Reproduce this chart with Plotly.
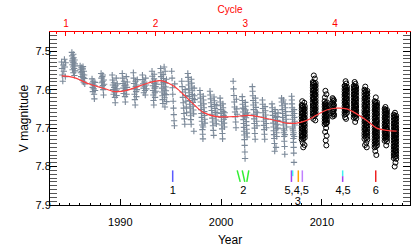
import plotly.graph_objects as go

# ---------------- data ----------------
# gray "+" photometry (year, V mag) per season
gray_obs = [
    (1984.18,7.528),(1984.22,7.545),(1984.25,7.562),(1984.30,7.578),(1984.34,7.536),(1984.40,7.552),(1984.46,7.521),(1984.50,7.541),(1984.55,7.566),(1984.58,7.530),
    (1985.20,7.503),(1985.22,7.512),(1985.24,7.525),(1985.25,7.535),(1985.27,7.548),(1985.29,7.520),(1985.31,7.530),(1985.33,7.541),(1985.35,7.556),(1985.37,7.517),(1985.39,7.528),(1985.41,7.538),(1985.43,7.545),(1985.45,7.563),(1985.47,7.523),(1985.49,7.533),(1985.51,7.551),(1985.34,7.508),
    (1986.02,7.538),(1986.06,7.548),(1986.09,7.556),(1986.12,7.566),(1986.15,7.543),(1986.19,7.553),(1986.22,7.575),(1986.26,7.560),(1986.29,7.546),(1986.33,7.568),(1986.36,7.580),(1986.39,7.552),(1986.42,7.562),(1986.45,7.571),(1986.48,7.585),(1986.30,7.540),
    (1987.20,7.572),(1987.23,7.583),(1987.26,7.594),(1987.28,7.605),(1987.31,7.578),(1987.34,7.588),(1987.37,7.598),(1987.40,7.612),(1987.43,7.624),(1987.45,7.590),(1987.48,7.581),(1987.50,7.602),
    (1988.10,7.558),(1988.13,7.570),(1988.16,7.582),(1988.19,7.593),(1988.22,7.566),(1988.25,7.578),(1988.28,7.589),(1988.31,7.600),(1988.34,7.614),(1988.37,7.575),(1988.40,7.586),(1988.27,7.562),
    (1989.20,7.562),(1989.24,7.575),(1989.27,7.588),(1989.30,7.600),(1989.34,7.612),(1989.37,7.582),(1989.40,7.594),(1989.44,7.606),(1989.47,7.620),(1989.50,7.634),(1989.54,7.590),(1989.57,7.603),(1989.60,7.570),(1989.63,7.615),(1989.67,7.598),(1989.70,7.585),
    (1990.20,7.558),(1990.24,7.570),(1990.27,7.584),(1990.30,7.596),(1990.34,7.610),(1990.37,7.578),(1990.40,7.590),(1990.44,7.602),(1990.47,7.618),(1990.50,7.632),(1990.54,7.588),(1990.57,7.600),(1990.60,7.566),(1990.63,7.612),(1990.67,7.594),(1990.70,7.580),
    (1991.30,7.556),(1991.33,7.570),(1991.36,7.584),(1991.39,7.598),(1991.42,7.612),(1991.45,7.626),(1991.48,7.640),(1991.51,7.578),(1991.54,7.592),(1991.57,7.605),(1991.60,7.618),(1991.63,7.588),(1991.66,7.600),(1991.69,7.574),
    (1992.20,7.562),(1992.24,7.574),(1992.27,7.585),(1992.31,7.596),(1992.34,7.608),(1992.38,7.580),(1992.41,7.591),(1992.45,7.602),(1992.48,7.614),(1992.52,7.570),(1992.55,7.588),(1992.59,7.598),
    (1993.15,7.552),(1993.18,7.565),(1993.20,7.578),(1993.23,7.590),(1993.25,7.602),(1993.28,7.614),(1993.30,7.628),(1993.33,7.640),(1993.35,7.572),(1993.38,7.584),(1993.40,7.596),(1993.43,7.608),(1993.45,7.620),(1993.48,7.580),(1993.50,7.592),(1993.52,7.604),(1993.55,7.586),(1993.36,7.560),
    (1994.00,7.545),(1994.03,7.556),(1994.05,7.566),(1994.08,7.576),(1994.10,7.586),(1994.13,7.596),(1994.15,7.606),(1994.18,7.616),(1994.20,7.626),(1994.23,7.636),(1994.25,7.561),(1994.28,7.571),(1994.30,7.581),(1994.33,7.591),(1994.35,7.601),(1994.38,7.611),(1994.40,7.621),(1994.43,7.645),(1994.45,7.552),(1994.48,7.583),(1994.50,7.593),(1994.53,7.603),(1994.55,7.613),(1994.58,7.573),(1994.60,7.631),(1994.35,7.541),
    (1995.10,7.552),(1995.14,7.570),(1995.18,7.595),(1995.21,7.612),(1995.25,7.630),(1995.28,7.648),(1995.31,7.665),(1995.34,7.681),(1995.37,7.694),(1995.40,7.585),
    (1996.10,7.578),(1996.14,7.592),(1996.18,7.606),(1996.21,7.620),(1996.25,7.634),(1996.29,7.648),(1996.32,7.662),(1996.36,7.676),(1996.40,7.690),(1996.44,7.600),(1996.47,7.615),(1996.51,7.630),(1996.55,7.645),(1996.58,7.660),
    (1996.70,7.558),(1996.73,7.568),(1996.75,7.578),(1996.78,7.588),(1996.80,7.598),(1996.83,7.608),(1996.85,7.618),(1996.88,7.628),(1996.90,7.638),(1996.93,7.648),(1996.95,7.658),(1996.98,7.668),(1997.00,7.678),(1997.03,7.690),(1997.05,7.573),(1997.08,7.583),(1997.10,7.593),(1997.13,7.603),(1997.15,7.613),(1997.18,7.623),(1997.20,7.633),(1997.23,7.643),(1997.25,7.653),(1997.28,7.663),(1997.30,7.708),(1997.33,7.596),(1997.35,7.616),(1997.38,7.626),
    (1997.90,7.602),(1997.93,7.612),(1997.95,7.622),(1997.98,7.632),(1998.00,7.642),(1998.03,7.652),(1998.05,7.662),(1998.08,7.672),(1998.10,7.682),(1998.13,7.692),(1998.15,7.704),(1998.18,7.716),(1998.20,7.728),(1998.23,7.617),(1998.25,7.627),(1998.28,7.637),(1998.30,7.647),(1998.33,7.657),(1998.35,7.667),(1998.38,7.677),(1998.40,7.687),(1998.22,7.697),
    (1998.90,7.604),(1998.93,7.614),(1998.97,7.624),(1999.00,7.634),(1999.03,7.644),(1999.07,7.654),(1999.10,7.664),(1999.13,7.674),(1999.17,7.684),(1999.20,7.694),(1999.23,7.706),(1999.27,7.719),(1999.30,7.619),(1999.33,7.629),(1999.37,7.639),(1999.40,7.649),(1999.43,7.659),(1999.47,7.669),(1999.50,7.679),(1999.53,7.689),(1999.57,7.640),(1999.60,7.660),
    (1999.90,7.622),(1999.93,7.632),(1999.95,7.642),(1999.98,7.652),(2000.00,7.662),(2000.03,7.672),(2000.05,7.682),(2000.08,7.692),(2000.10,7.702),(2000.13,7.714),(2000.15,7.728),(2000.18,7.637),(2000.20,7.647),(2000.23,7.657),(2000.25,7.667),(2000.28,7.677),(2000.30,7.687),(2000.33,7.697),(2000.36,7.660),(2000.40,7.672),
    (2001.20,7.578),(2001.24,7.598),(2001.27,7.615),(2001.31,7.632),(2001.34,7.645),(2001.38,7.658),(2001.41,7.670),(2001.45,7.684),(2001.48,7.699),(2001.52,7.625),(2001.55,7.650),(2001.59,7.664),
    (2002.10,7.618),(2002.12,7.628),(2002.14,7.638),(2002.16,7.648),(2002.18,7.658),(2002.20,7.668),(2002.22,7.678),(2002.24,7.688),(2002.26,7.698),(2002.28,7.708),(2002.30,7.718),(2002.32,7.730),(2002.34,7.745),(2002.36,7.762),(2002.38,7.779),(2002.40,7.633),(2002.42,7.643),(2002.44,7.653),(2002.46,7.663),(2002.48,7.673),(2002.50,7.683),(2002.52,7.693),(2002.54,7.703),(2002.56,7.713),(2002.58,7.723),(2002.60,7.660),(2002.33,7.670),(2002.27,7.650),
    (2003.10,7.592),(2003.13,7.604),(2003.15,7.616),(2003.18,7.628),(2003.20,7.640),(2003.23,7.652),(2003.25,7.664),(2003.28,7.676),(2003.30,7.688),(2003.33,7.700),(2003.35,7.714),(2003.38,7.729),(2003.40,7.622),(2003.43,7.634),(2003.45,7.646),(2003.48,7.658),(2003.50,7.670),(2003.53,7.682),(2003.56,7.694),(2003.60,7.660),
    (2004.10,7.627),(2004.13,7.638),(2004.15,7.649),(2004.18,7.660),(2004.20,7.671),(2004.23,7.682),(2004.25,7.693),(2004.28,7.704),(2004.30,7.716),(2004.33,7.729),(2004.36,7.644),(2004.39,7.655),(2004.42,7.666),(2004.45,7.677),(2004.48,7.688),(2004.50,7.699),
    (2005.05,7.637),(2005.07,7.647),(2005.10,7.657),(2005.12,7.667),(2005.15,7.677),(2005.17,7.687),(2005.20,7.697),(2005.22,7.707),(2005.25,7.717),(2005.27,7.727),(2005.30,7.740),(2005.32,7.760),(2005.35,7.652),(2005.37,7.662),(2005.40,7.672),(2005.42,7.682),(2005.45,7.692),(2005.47,7.702),(2005.50,7.712),(2005.52,7.722),(2005.55,7.670),(2005.57,7.690),(2005.60,7.680),(2005.62,7.700),(2005.65,7.660),(2005.45,7.750),
    (2006.00,7.622),(2006.02,7.632),(2006.05,7.642),(2006.07,7.652),(2006.10,7.662),(2006.12,7.672),(2006.15,7.682),(2006.17,7.692),(2006.20,7.702),(2006.22,7.712),(2006.25,7.722),(2006.27,7.734),(2006.30,7.748),(2006.32,7.768),(2006.35,7.637),(2006.37,7.647),(2006.40,7.657),(2006.42,7.667),(2006.45,7.677),(2006.47,7.687),(2006.50,7.697),(2006.28,7.707),(2006.33,7.717),(2006.18,7.627),
    (2007.00,7.617),(2007.02,7.627),(2007.03,7.637),(2007.05,7.647),(2007.06,7.657),(2007.08,7.667),(2007.09,7.677),(2007.11,7.687),(2007.12,7.697),(2007.14,7.707),(2007.15,7.717),(2007.17,7.727),(2007.18,7.737),(2007.20,7.750),(2007.21,7.765),(2007.23,7.789),(2007.24,7.652),(2007.26,7.662),(2007.27,7.672),(2007.29,7.682),(2007.30,7.692),(2007.10,7.702),(2007.20,7.712),(2007.25,7.722),
]

# black "o" photometry (year, V mag) per season
black_obs = [
    # 2008
    (2008.00,7.640),(2008.15,7.645),(2008.30,7.650),(2008.00,7.655),(2008.15,7.660),(2008.30,7.665),(2008.00,7.670),(2008.15,7.675),(2008.30,7.680),(2008.00,7.685),(2008.15,7.690),(2008.30,7.695),(2008.00,7.700),(2008.15,7.705),(2008.30,7.710),(2008.00,7.715),(2008.15,7.720),(2008.30,7.725),(2008.00,7.730),
    (2008.08,7.642),(2008.22,7.652),(2008.08,7.662),(2008.22,7.672),(2008.08,7.682),(2008.22,7.692),(2008.08,7.702),(2008.22,7.712),(2008.08,7.722),
    (2008.30,7.643),(2008.00,7.648),(2008.15,7.653),(2008.30,7.658),(2008.00,7.663),(2008.15,7.668),(2008.30,7.673),(2008.00,7.678),(2008.15,7.683),(2008.30,7.688),(2008.00,7.693),(2008.15,7.698),(2008.30,7.703),(2008.00,7.708),(2008.15,7.713),(2008.30,7.718),(2008.00,7.723),(2008.15,7.728),
    (2008.05,7.630),(2008.25,7.634),(2008.10,7.738),(2008.28,7.744),(2008.15,7.750),
    # 2009
    (2009.10,7.580),(2009.24,7.585),(2009.38,7.590),(2009.10,7.595),(2009.24,7.600),(2009.38,7.605),(2009.10,7.610),(2009.24,7.615),(2009.38,7.620),(2009.10,7.625),(2009.24,7.630),(2009.38,7.635),(2009.10,7.640),(2009.24,7.645),(2009.38,7.650),(2009.10,7.655),(2009.24,7.660),(2009.38,7.665),(2009.10,7.670),
    (2009.17,7.582),(2009.31,7.592),(2009.17,7.602),(2009.31,7.612),(2009.17,7.622),(2009.31,7.632),(2009.17,7.642),(2009.31,7.652),(2009.17,7.662),
    (2009.38,7.583),(2009.10,7.588),(2009.24,7.593),(2009.38,7.598),(2009.10,7.603),(2009.24,7.608),(2009.38,7.613),(2009.10,7.618),(2009.24,7.623),(2009.38,7.628),(2009.10,7.633),(2009.24,7.638),(2009.38,7.643),(2009.10,7.648),(2009.24,7.653),(2009.38,7.658),(2009.10,7.663),(2009.24,7.668),
    (2009.20,7.563),(2009.30,7.571),(2009.15,7.676),(2009.35,7.680),
    # 2010
    (2010.27,7.630),(2010.39,7.635),(2010.51,7.640),(2010.27,7.645),(2010.39,7.650),(2010.51,7.655),(2010.27,7.660),(2010.39,7.665),(2010.51,7.670),(2010.27,7.675),(2010.39,7.680),(2010.51,7.685),(2010.27,7.690),
    (2010.33,7.638),(2010.45,7.648),(2010.33,7.658),(2010.45,7.668),(2010.33,7.678),(2010.45,7.688),
    (2010.51,7.633),(2010.27,7.638),(2010.39,7.643),(2010.51,7.648),(2010.27,7.653),(2010.39,7.658),(2010.51,7.663),(2010.27,7.668),(2010.39,7.673),(2010.51,7.678),(2010.27,7.683),(2010.39,7.688),
    (2010.35,7.603),(2010.45,7.612),(2010.30,7.620),(2010.42,7.700),(2010.32,7.710),(2010.47,7.720),(2010.38,7.732),(2010.44,7.745),
    # 2011
    (2011.06,7.622),(2011.20,7.628),(2011.06,7.634),(2011.20,7.640),(2011.06,7.646),(2011.20,7.652),(2011.06,7.658),(2011.20,7.664),(2011.06,7.670),(2011.13,7.630),(2011.13,7.650),
    (2011.13,7.625),(2011.13,7.638),(2011.13,7.644),(2011.13,7.656),(2011.13,7.662),(2011.20,7.668),
    # 2012
    (2012.25,7.590),(2012.37,7.595),(2012.49,7.600),(2012.25,7.605),(2012.37,7.610),(2012.49,7.615),(2012.25,7.620),(2012.37,7.625),(2012.49,7.630),(2012.25,7.635),(2012.37,7.640),(2012.49,7.645),(2012.25,7.650),(2012.37,7.655),(2012.49,7.660),(2012.25,7.665),
    (2012.31,7.592),(2012.43,7.602),(2012.31,7.612),(2012.43,7.622),(2012.31,7.632),(2012.43,7.642),(2012.31,7.652),
    (2012.49,7.593),(2012.25,7.598),(2012.37,7.603),(2012.49,7.608),(2012.25,7.613),(2012.37,7.618),(2012.49,7.623),(2012.25,7.628),(2012.37,7.633),(2012.49,7.638),(2012.25,7.643),(2012.37,7.648),(2012.49,7.653),(2012.25,7.658),(2012.37,7.663),
    (2012.35,7.578),(2012.42,7.584),(2012.30,7.672),(2012.40,7.676),
    # 2013
    (2013.16,7.590),(2013.28,7.595),(2013.40,7.600),(2013.16,7.605),(2013.28,7.610),(2013.40,7.615),(2013.16,7.620),(2013.28,7.625),(2013.40,7.630),(2013.16,7.635),(2013.28,7.640),(2013.40,7.645),(2013.16,7.650),(2013.28,7.655),(2013.40,7.660),(2013.16,7.665),(2013.28,7.670),(2013.40,7.675),
    (2013.22,7.592),(2013.34,7.602),(2013.22,7.612),(2013.34,7.622),(2013.22,7.632),(2013.34,7.642),(2013.22,7.652),(2013.34,7.662),
    (2013.40,7.593),(2013.16,7.598),(2013.28,7.603),(2013.40,7.608),(2013.16,7.613),(2013.28,7.618),(2013.40,7.623),(2013.16,7.628),(2013.28,7.633),(2013.40,7.638),(2013.16,7.643),(2013.28,7.648),(2013.40,7.653),(2013.16,7.658),(2013.28,7.663),(2013.40,7.668),(2013.16,7.673),
    (2013.25,7.580),(2013.33,7.585),(2013.30,7.684),
    # 2014
    (2014.22,7.600),(2014.36,7.605),(2014.50,7.610),(2014.22,7.615),(2014.36,7.620),(2014.50,7.625),(2014.22,7.630),(2014.36,7.635),(2014.50,7.640),(2014.22,7.645),(2014.36,7.650),(2014.50,7.655),(2014.22,7.660),(2014.36,7.665),(2014.50,7.670),(2014.22,7.675),(2014.36,7.680),(2014.50,7.685),(2014.22,7.690),(2014.36,7.695),(2014.50,7.700),(2014.22,7.705),(2014.36,7.710),(2014.50,7.715),(2014.22,7.720),(2014.36,7.725),(2014.50,7.730),
    (2014.29,7.602),(2014.43,7.612),(2014.29,7.622),(2014.43,7.632),(2014.29,7.642),(2014.43,7.652),(2014.29,7.662),(2014.43,7.672),(2014.29,7.682),(2014.43,7.692),(2014.29,7.702),(2014.43,7.712),
    (2014.50,7.603),(2014.22,7.608),(2014.36,7.613),(2014.50,7.618),(2014.22,7.623),(2014.36,7.628),(2014.50,7.633),(2014.22,7.638),(2014.36,7.643),(2014.50,7.648),(2014.22,7.653),(2014.36,7.658),(2014.50,7.663),(2014.22,7.668),(2014.36,7.673),(2014.50,7.678),(2014.22,7.683),(2014.36,7.688),(2014.50,7.693),(2014.22,7.698),(2014.36,7.703),(2014.50,7.708),(2014.22,7.713),(2014.36,7.718),(2014.50,7.723),(2014.22,7.728),
    (2014.30,7.592),(2014.40,7.738),(2014.28,7.744),(2014.45,7.750),
    # 2015
    (2015.23,7.630),(2015.35,7.635),(2015.47,7.640),(2015.23,7.645),(2015.35,7.650),(2015.47,7.655),(2015.23,7.660),(2015.35,7.665),(2015.47,7.670),(2015.23,7.675),(2015.35,7.680),(2015.47,7.685),(2015.23,7.690),(2015.35,7.695),(2015.47,7.700),(2015.23,7.705),(2015.35,7.710),(2015.47,7.715),(2015.23,7.720),(2015.35,7.725),(2015.47,7.730),(2015.23,7.735),(2015.35,7.740),(2015.47,7.745),(2015.23,7.750),
    (2015.29,7.632),(2015.41,7.642),(2015.29,7.652),(2015.41,7.662),(2015.29,7.672),(2015.41,7.682),(2015.29,7.692),(2015.41,7.702),(2015.29,7.712),(2015.41,7.722),
    (2015.47,7.633),(2015.23,7.638),(2015.35,7.643),(2015.47,7.648),(2015.23,7.653),(2015.35,7.658),(2015.47,7.663),(2015.23,7.668),(2015.35,7.673),(2015.47,7.678),(2015.23,7.683),(2015.35,7.688),(2015.47,7.693),(2015.23,7.698),(2015.35,7.703),(2015.47,7.708),(2015.23,7.713),(2015.35,7.718),(2015.47,7.723),(2015.23,7.728),(2015.35,7.733),(2015.47,7.738),(2015.23,7.743),(2015.35,7.748),
    (2015.35,7.620),(2015.30,7.760),(2015.40,7.770),
    # 2016
    (2016.22,7.650),(2016.34,7.655),(2016.46,7.660),(2016.22,7.665),(2016.34,7.670),(2016.46,7.675),(2016.22,7.680),(2016.34,7.685),(2016.46,7.690),(2016.22,7.695),(2016.34,7.700),(2016.46,7.705),(2016.22,7.710),(2016.34,7.715),(2016.46,7.720),(2016.22,7.725),(2016.34,7.730),(2016.46,7.735),
    (2016.28,7.652),(2016.40,7.662),(2016.28,7.672),(2016.40,7.682),(2016.28,7.692),(2016.40,7.702),(2016.28,7.712),(2016.40,7.722),
    (2016.46,7.653),(2016.22,7.658),(2016.34,7.663),(2016.46,7.668),(2016.22,7.673),(2016.34,7.678),(2016.46,7.683),(2016.22,7.688),(2016.34,7.693),(2016.46,7.698),(2016.22,7.703),(2016.34,7.708),(2016.46,7.713),(2016.22,7.718),(2016.34,7.723),(2016.46,7.728),(2016.22,7.733),
    (2016.30,7.645),(2016.38,7.745),
    # 2017
    (2017.13,7.665),(2017.25,7.670),(2017.37,7.675),(2017.13,7.680),(2017.25,7.685),(2017.37,7.690),(2017.13,7.695),(2017.25,7.700),(2017.37,7.705),(2017.13,7.710),(2017.25,7.715),(2017.37,7.720),(2017.13,7.725),(2017.25,7.730),(2017.37,7.735),(2017.13,7.740),(2017.25,7.745),(2017.37,7.750),(2017.13,7.755),(2017.25,7.760),(2017.37,7.765),(2017.13,7.770),(2017.25,7.775),(2017.37,7.780),
    (2017.19,7.667),(2017.31,7.677),(2017.19,7.687),(2017.31,7.697),(2017.19,7.707),(2017.31,7.717),(2017.19,7.727),(2017.31,7.737),(2017.19,7.747),(2017.31,7.757),
    (2017.37,7.668),(2017.13,7.673),(2017.25,7.678),(2017.37,7.683),(2017.13,7.688),(2017.25,7.693),(2017.37,7.698),(2017.13,7.703),(2017.25,7.708),(2017.37,7.713),(2017.13,7.718),(2017.25,7.723),(2017.37,7.728),(2017.13,7.733),(2017.25,7.738),(2017.37,7.743),(2017.13,7.748),(2017.25,7.753),(2017.37,7.758),(2017.13,7.763),(2017.25,7.768),(2017.37,7.773),(2017.13,7.778),
    (2017.25,7.660),(2017.30,7.790),(2017.22,7.800),
]

# smooth trend curve (red)
trend_years = [1984.19, 1985.34, 1987.0, 1988.65, 1989.47, 1990.63, 1991.95, 1993.27, 1994.1, 1995.26,
               1996.25, 1997.24, 1998.23, 1999.56, 2001.21, 2002.87, 2004.19, 2005.67, 2006.51, 2007.5,
               2008.49, 2009.48, 2010.48, 2011.47, 2012.46, 2013.45, 2014.44, 2015.44, 2016.43, 2017.42]
trend_mags = [7.564, 7.568, 7.586, 7.599, 7.605, 7.602, 7.590, 7.579, 7.577, 7.590,
              7.612, 7.637, 7.659, 7.670, 7.670, 7.667, 7.673, 7.682, 7.687, 7.687,
              7.680, 7.666, 7.653, 7.648, 7.650, 7.663, 7.680, 7.700, 7.706, 7.708]

# event marks: (top year, bottom year, top mag, bottom mag)
event_top_years = [1995.20, 2001.60, 2002.10, 2002.75, 2006.98, 2007.10, 2007.66, 2008.06, 2012.06, 2012.06, 2015.34]
event_bot_years = [1995.20, 2001.90, 2002.35, 2002.55, 2006.98, 2007.10, 2007.66, 2008.06, 2012.06, 2012.06, 2015.34]
event_top_mags  = [7.810, 7.810, 7.810, 7.810, 7.810, 7.810, 7.810, 7.810, 7.810, 7.825, 7.810]
event_bot_mags  = [7.840, 7.840, 7.840, 7.840, 7.840, 7.825, 7.840, 7.840, 7.825, 7.840, 7.840]
event_colors    = ["#5a5aff", "#33ee33", "#33ee33", "#33ee33", "#a040f0", "#40f0f0", "#ffa500", "#c080ff", "#40f0f0", "#a040f0", "#ee2020"]

event_labels      = ["1", "2", "5,4,5", "3", "4,5", "6"]
event_label_years = [1995.2, 2002.2, 2007.5, 2007.62, 2012.1, 2015.35]
event_label_mags  = [7.865, 7.865, 7.865, 7.893, 7.865, 7.865]

# cycle ephemeris for top axis
cycle1_year = 1984.61
cycle_length = 8.897
cycle_ticks = [1, 2, 3, 4]

year_range = [1983.03, 2018.74]
mag_range = [7.9, 7.45]

# ---------------- figure ----------------
FONT = "Liberation Sans, Arial, sans-serif"
fig = go.Figure()

fig.add_trace(go.Scatter(
    x=[t for t, m in gray_obs], y=[m for t, m in gray_obs], mode="markers",
    marker=dict(symbol="cross-thin-open", size=4.5, color="#7a8898",
                line=dict(color="#7a8898", width=1.1)),
    hoverinfo="skip", showlegend=False))

fig.add_trace(go.Scatter(
    x=[t for t, m in black_obs], y=[m for t, m in black_obs], mode="markers",
    marker=dict(symbol="circle-open", size=5, color="black",
                line=dict(color="black", width=1.0)),
    hoverinfo="skip", showlegend=False))

fig.add_trace(go.Scatter(
    x=trend_years, y=trend_mags, mode="lines",
    line=dict(color="#ff3b3b", width=1.2, shape="spline"),
    hoverinfo="skip", showlegend=False))

for t0, t1, m0, m1, c in zip(event_top_years, event_bot_years, event_top_mags, event_bot_mags, event_colors):
    fig.add_trace(go.Scatter(x=[t0, t1], y=[m0, m1], mode="lines",
                             line=dict(color=c, width=1.5),
                             hoverinfo="skip", showlegend=False))

fig.add_trace(go.Scatter(
    x=event_label_years, y=event_label_mags, mode="text", text=event_labels,
    textfont=dict(family=FONT, size=11, color="black"),
    hoverinfo="skip", showlegend=False))

cyc_range = [1 + (year_range[0] - cycle1_year) / cycle_length,
             1 + (year_range[1] - cycle1_year) / cycle_length]
fig.add_trace(go.Scatter(x=cyc_range, y=[7.6, 7.6], xaxis="x2", mode="markers",
                         marker=dict(opacity=0), hoverinfo="skip", showlegend=False))

fig.update_layout(
    width=415, height=249,
    margin=dict(l=50, r=5, t=32, b=44),
    paper_bgcolor="white", plot_bgcolor="white",
    font=dict(family=FONT, size=11, color="black"),
    xaxis=dict(
        range=year_range, showgrid=False, zeroline=False, automargin=False,
        showline=True, linecolor="black", linewidth=1, mirror=False,
        ticks="inside", ticklen=6, tickcolor="black", tickwidth=1,
        tick0=1990, dtick=10, ticklabelstandoff=7,
        minor=dict(dtick=1, ticks="inside", ticklen=2, tickcolor="black", showgrid=False),
        title=dict(text="Year", font=dict(size=12), standoff=8),
    ),
    xaxis2=dict(
        overlaying="x", side="top", range=cyc_range, showgrid=False, zeroline=False,
        automargin=False,
        showline=True, linecolor="red", linewidth=1,
        ticks="inside", ticklen=4, tickcolor="red", tickwidth=1,
        tickvals=cycle_ticks, tickfont=dict(color="red", size=10),
        minor=dict(dtick=0.1, tick0=0, ticks="inside", ticklen=2, tickcolor="red", showgrid=False),
        title=dict(text="Cycle", font=dict(size=10, color="red"), standoff=2),
    ),
    yaxis=dict(
        range=mag_range, showgrid=False, zeroline=False, automargin=False,
        showline=True, linecolor="black", linewidth=1, mirror="allticks",
        ticks="inside", ticklen=7, tickcolor="black", tickwidth=1,
        tick0=7.5, dtick=0.1, tickformat=".1f", ticklabelstandoff=-4,
        minor=dict(dtick=0.01, ticks="inside", ticklen=4, tickcolor="#555", showgrid=False),
        title=dict(text="V magnitude", font=dict(size=12), standoff=4),
    ),
)

fig.write_html("out.html", config={"displayModeBar": False},
               post_script="document.body.style.margin='0';document.body.style.padding='0';")
